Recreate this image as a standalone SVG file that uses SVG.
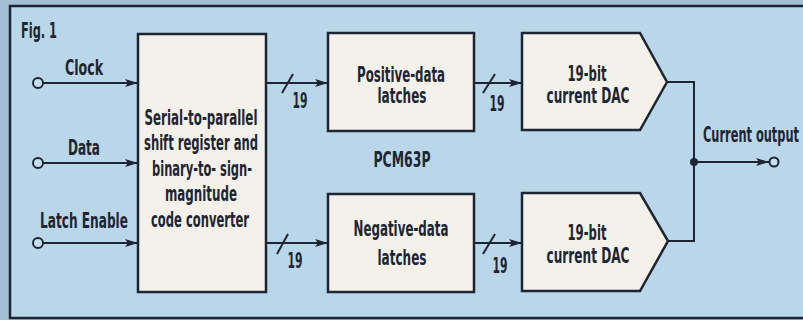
<svg xmlns="http://www.w3.org/2000/svg" width="803" height="320" viewBox="0 0 803 320">
<defs>
<style>
.t{font-family:"Liberation Sans Narrow","DejaVu Sans Condensed","Liberation Sans",sans-serif;font-weight:bold;font-size:21px;fill:#1e2533;text-anchor:middle}
.box{fill:#f3f1ea;stroke:#1d2433;stroke-width:2.5}
.ln{fill:none;stroke:#1d2433;stroke-width:2}
.term{fill:#c4dff0;stroke:#1d2433;stroke-width:2}
</style>
<marker id="ah" markerUnits="userSpaceOnUse" markerWidth="14" markerHeight="10" refX="13" refY="4" orient="auto">
<path d="M0,0 L13,4 L0,8 L3,4 Z" fill="#1d2433"/>
</marker>
</defs>
<rect x="0" y="0" width="803" height="320" fill="#a3c0d3"/>
<rect x="10" y="6" width="800" height="312" fill="#b9d7e9" stroke="#1d2433" stroke-width="2.5"/>
<text class="t" x="21" y="38" style="text-anchor:start" textLength="36" lengthAdjust="spacingAndGlyphs">Fig. 1</text>

<g id="inputs">
<text class="t" x="84" y="75" textLength="38" lengthAdjust="spacingAndGlyphs">Clock</text>
<text class="t" x="84" y="155" textLength="32" lengthAdjust="spacingAndGlyphs">Data</text>
<text class="t" x="84" y="228" textLength="88" lengthAdjust="spacingAndGlyphs">Latch Enable</text>
<circle class="term" cx="38" cy="83" r="5"/>
<circle class="term" cx="38" cy="163" r="5"/>
<circle class="term" cx="38" cy="243" r="5"/>
</g>

<g id="serial">
<rect class="box" x="138" y="34" width="128" height="258"/>
<text class="t" x="201" y="125" textLength="113" lengthAdjust="spacingAndGlyphs">Serial-to-parallel</text>
<text class="t" x="201" y="150" textLength="114" lengthAdjust="spacingAndGlyphs">shift register and</text>
<text class="t" x="202" y="176" textLength="100" lengthAdjust="spacingAndGlyphs">binary-to- sign-</text>
<text class="t" x="201" y="201" textLength="72" lengthAdjust="spacingAndGlyphs">magnitude</text>
<text class="t" x="200" y="227" textLength="98" lengthAdjust="spacingAndGlyphs">code converter</text>
</g>

<g id="poslatch">
<rect class="box" x="328" y="33" width="146" height="98"/>
<text class="t" x="401" y="82" textLength="88" lengthAdjust="spacingAndGlyphs">Positive-data</text>
<text class="t" x="402" y="103" textLength="49" lengthAdjust="spacingAndGlyphs">latches</text>
</g>

<g id="neglatch">
<rect class="box" x="328" y="194" width="146" height="98"/>
<text class="t" x="401" y="236" textLength="95" lengthAdjust="spacingAndGlyphs">Negative-data</text>
<text class="t" x="402" y="265" textLength="49" lengthAdjust="spacingAndGlyphs">latches</text>
</g>

<text class="t" x="402" y="167" textLength="57" lengthAdjust="spacingAndGlyphs">PCM63P</text>

<g id="dac1">
<path class="box" d="M522,33 L640,33 L667,82 L640,130 L522,130 Z"/>
<text class="t" x="587" y="81" textLength="39" lengthAdjust="spacingAndGlyphs">19-bit</text>
<text class="t" x="588" y="103" textLength="83" lengthAdjust="spacingAndGlyphs">current DAC</text>
</g>

<g id="dac2">
<path class="box" d="M522,193 L640,193 L668,241 L640,291 L522,291 Z"/>
<text class="t" x="587" y="240" textLength="39" lengthAdjust="spacingAndGlyphs">19-bit</text>
<text class="t" x="588" y="263" textLength="83" lengthAdjust="spacingAndGlyphs">current DAC</text>
</g>

<g id="output">
<text class="t" x="751" y="142" textLength="96" lengthAdjust="spacingAndGlyphs">Current output</text>
<circle class="term" cx="774" cy="162" r="4.5"/>
</g>

<g id="connectors">
<line class="ln" x1="43" y1="83" x2="138" y2="83" marker-end="url(#ah)"/>
<line class="ln" x1="43" y1="163" x2="138" y2="163" marker-end="url(#ah)"/>
<line class="ln" x1="43" y1="243" x2="138" y2="243" marker-end="url(#ah)"/>
<line class="ln" x1="266" y1="83" x2="328" y2="83" marker-end="url(#ah)"/>
<line class="ln" x1="282" y1="93" x2="293" y2="74"/>
<text class="t" x="300" y="108" textLength="15" lengthAdjust="spacingAndGlyphs">19</text>
<line class="ln" x1="474" y1="83" x2="522" y2="83" marker-end="url(#ah)"/>
<line class="ln" x1="483" y1="93" x2="495" y2="74"/>
<text class="t" x="497" y="111" textLength="15" lengthAdjust="spacingAndGlyphs">19</text>
<line class="ln" x1="266" y1="243" x2="328" y2="243" marker-end="url(#ah)"/>
<line class="ln" x1="277" y1="254" x2="288" y2="234"/>
<text class="t" x="295" y="268" textLength="15" lengthAdjust="spacingAndGlyphs">19</text>
<line class="ln" x1="474" y1="243" x2="522" y2="243" marker-end="url(#ah)"/>
<line class="ln" x1="483" y1="254" x2="495" y2="234"/>
<text class="t" x="500" y="273" textLength="15" lengthAdjust="spacingAndGlyphs">19</text>
<polyline class="ln" points="667,82 694,82 694,241 668,241"/>
<circle cx="694" cy="162" r="4" fill="#1d2433"/>
<line class="ln" x1="694" y1="162" x2="769" y2="162" marker-end="url(#ah)"/>
</g>
</svg>
